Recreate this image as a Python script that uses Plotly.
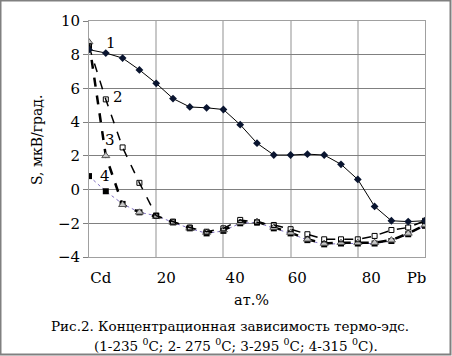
import plotly.graph_objects as go

x_pct = [0, 5, 10, 15, 20, 25, 30, 35, 40, 45, 50, 55, 60, 65, 70, 75, 80, 85, 90, 95, 100]
s1 = [8.3, 8.1, 7.8, 7.1, 6.3, 5.4, 4.9, 4.85, 4.75, 3.85, 2.75, 2.05, 2.05, 2.1, 2.05, 1.5, 0.6, -1.0, -1.85, -1.9, -1.85]
s2 = [8.5, 5.35, 2.5, 0.4, -1.55, -1.9, -2.25, -2.5, -2.3, -1.8, -1.95, -2.1, -2.35, -2.65, -2.95, -2.95, -2.95, -2.75, -2.4, -2.25, -1.85]
s3 = [8.75, 2.0, -0.9, -1.35, -1.6, -1.95, -2.3, -2.55, -2.4, -1.95, -1.9, -2.25, -2.55, -2.95, -3.2, -3.15, -3.15, -3.15, -3.0, -2.6, -2.1]
s4 = [0.8, -0.1, -0.85, -1.35, -1.55, -1.95, -2.3, -2.6, -2.45, -2.0, -1.95, -2.3, -2.6, -3.0, -3.25, -3.2, -3.2, -3.2, -3.05, -2.65, -2.15]

x_tick_pos = [3.5, 23, 43.5, 62, 84, 97.5]
x_tick_text = ["Cd", "20", "40", "60", "80", "Pb"]
y_ticks = [-4, -2, 0, 2, 4, 6, 8, 10]

W, H = 452, 356
L, R, T, B = 89, 27, 21, 99
pw, ph = W - L - R, H - T - B

def px(xp):
    return (xp - L) / pw

def py(yp):
    return (H - B - yp) / ph

FONT = "DejaVu Serif"

fig = go.Figure()
fig.add_trace(go.Scatter(x=x_pct, y=s4, mode="lines+markers",
                         line=dict(color="#7f6fc0", width=1, dash="dot"),
                         marker=dict(symbol="square", size=6, color="black")))
fig.add_trace(go.Scatter(x=x_pct, y=s3, mode="lines+markers",
                         line=dict(color="black", width=2.5, dash="dash"),
                         marker=dict(symbol="triangle-up", size=7, color="#c8c8c8",
                                     line=dict(color="#555555", width=1))))
fig.add_trace(go.Scatter(x=x_pct, y=s2, mode="lines+markers",
                         line=dict(color="black", width=1.5, dash="dash"),
                         marker=dict(symbol="square-open", size=5, color="black",
                                     line=dict(width=1))))
fig.add_trace(go.Scatter(x=x_pct, y=s1, mode="lines+markers",
                         line=dict(color="black", width=1),
                         marker=dict(symbol="diamond", size=6, color="#0a1530")))

annotations = []
def ann(text, xx, yy, size=15, angle=0):
    annotations.append(dict(x=px(xx), y=py(yy), xref="paper", yref="paper", text=text,
                            xanchor="center", yanchor="middle", textangle=angle,
                            showarrow=False, font=dict(family=FONT, size=size, color="black")))

for lbl, xx, yy in [("1", 111, 43), ("2", 118, 97), ("3", 110, 140), ("4", 105, 176)]:
    ann(lbl, xx, yy, 15)
ann("ат.%", 251, 300, 14.5)
ann("S, мкВ/град.", 37, 140, 14, -90)
ann("Рис.2. Концентрационная зависимость термо-эдс.", 230, 326, 13.5)
ann("(1-235 <sup>0</sup>C; 2- 275 <sup>0</sup>C; 3-295 <sup>0</sup>C; 4-315 <sup>0</sup>C).", 236, 345, 13.5)

shapes = [dict(type="rect", xref="paper", yref="paper",
               x0=px(0.5), x1=px(W - 1.5), y0=py(H - 1.5), y1=py(0.5),
               line=dict(color="#808080", width=2))]

fig.update_layout(
    width=W, height=H,
    margin=dict(l=L, r=R, t=T, b=B),
    paper_bgcolor="white", plot_bgcolor="white",
    showlegend=False,
    annotations=annotations, shapes=shapes,
    font=dict(family=FONT, size=15, color="black"),
)
fig.update_xaxes(range=[0, 100], tickvals=x_tick_pos, ticktext=x_tick_text,
                 showgrid=False, ticks="", zeroline=False, ticklabelstandoff=7,
                 showline=True, linecolor="#a0a0a0", linewidth=1, mirror=True,
                 minor=dict(tickvals=[0, 20, 40, 60, 80, 100], showgrid=True,
                            gridcolor="#c8c8c8", gridwidth=1.5, ticks=""),
                 tickfont=dict(family=FONT, size=15, color="black"))
fig.update_yaxes(range=[-4, 10], tickvals=y_ticks, showgrid=True, gridcolor="#808080",
                 gridwidth=1, zeroline=False, ticks="outside", ticklen=5, tickcolor="#808080",
                 showline=True, linecolor="#a0a0a0", linewidth=1, mirror=True,
                 tickfont=dict(family=FONT, size=15, color="black"))

fig.write_html("out.html", config={"displayModeBar": False},
               post_script="document.body.style.margin='0';")
